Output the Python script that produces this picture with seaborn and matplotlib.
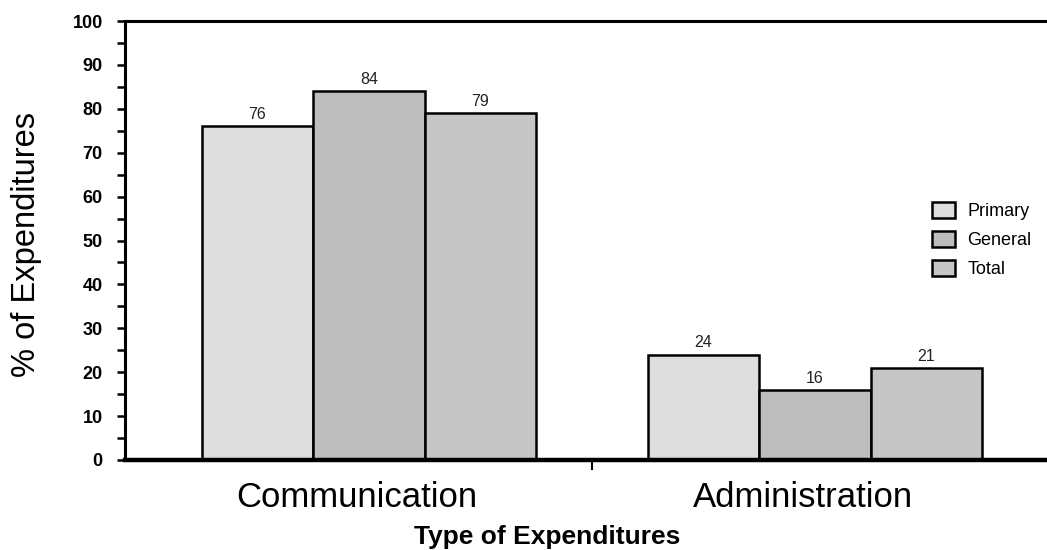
import matplotlib
matplotlib.use("Agg")
import matplotlib.pyplot as plt
import matplotlib.transforms as mtransforms
from matplotlib.patches import Patch
from matplotlib.ticker import MultipleLocator, FixedLocator
import seaborn as sns
import pandas as pd

# Expenditure shares by type and school level
categories = ["Communication", "Administration"]
series = ["Primary", "General", "Total"]
primary = [76, 24]
general = [84, 16]
total = [79, 21]
colors = ["#dddddd", "#bdbdbd", "#c6c6c6"]

df = pd.DataFrame({
    "Type": categories * 3,
    "Level": [s for s in series for _ in categories],
    "Value": primary + general + total,
})

sns.set_theme(style="white")
plt.rcParams["font.family"] = ["Liberation Sans", "DejaVu Sans"]
plt.rcParams["text.color"] = "black"
plt.rcParams["axes.labelcolor"] = "black"
plt.rcParams["xtick.color"] = "black"
plt.rcParams["ytick.color"] = "black"

fig = plt.figure(figsize=(10.47, 5.5), dpi=100)
ax = fig.add_axes([125 / 1047, 90 / 550, 934 / 1047, 439 / 550])

sns.barplot(data=df, x="Type", y="Value", hue="Level", order=categories,
            hue_order=series, palette=colors, edgecolor="black",
            linewidth=1.8, width=0.75, saturation=1, ax=ax, legend=False)

for cont in ax.containers:
    ax.bar_label(cont, fmt="%d", padding=3, fontsize=11.5, color="#222222")

ax.set_xlim(-0.547, 1.547)
ax.set_ylim(0, 100)

# y axis: labelled every 10, ticks every 5
ax.yaxis.set_major_locator(MultipleLocator(10))
ax.yaxis.set_minor_locator(MultipleLocator(5))
ax.tick_params(axis="y", which="both", direction="out", length=6, width=1.8,
               color="black", left=True, labelsize=13, pad=10)
for lab in ax.get_yticklabels():
    lab.set_fontweight("bold")

# x axis: category names, single divider tick between groups
ax.set_xticks([0, 1])
ax.set_xticklabels(categories, fontsize=25)
ax.tick_params(axis="x", which="major", length=0, pad=15)
shift = mtransforms.ScaledTranslation(-12 / 100, 0, fig.dpi_scale_trans)
for lab in ax.get_xticklabels():
    lab.set_transform(lab.get_transform() + shift)
ax.xaxis.set_minor_locator(FixedLocator([0.5]))
ax.tick_params(axis="x", which="minor", direction="out", length=7, width=1.5,
               color="black", bottom=True)

for side, lw in [("left", 2.2), ("top", 2.2), ("bottom", 3.2), ("right", 2.2)]:
    ax.spines[side].set_color("black")
    ax.spines[side].set_linewidth(lw)

ax.set_ylabel("% of Expenditures", fontsize=23.5)
ax.yaxis.set_label_coords(-0.089, 0.49)
ax.set_xlabel("Type of Expenditures", fontsize=19, fontweight="bold")
ax.xaxis.set_label_coords(0.452, -0.148)

handles = [Patch(facecolor=c, edgecolor="black", linewidth=1.8) for c in colors]
fig.legend(handles, series, loc="upper left",
           bbox_to_anchor=(932 / 1047, 1 - 202 / 550), frameon=False,
           fontsize=13, handlelength=1.25, handleheight=1.0,
           labelspacing=0.6, handletextpad=0.7, borderpad=0,
           borderaxespad=0)

fig.savefig("out.png", dpi=100)
